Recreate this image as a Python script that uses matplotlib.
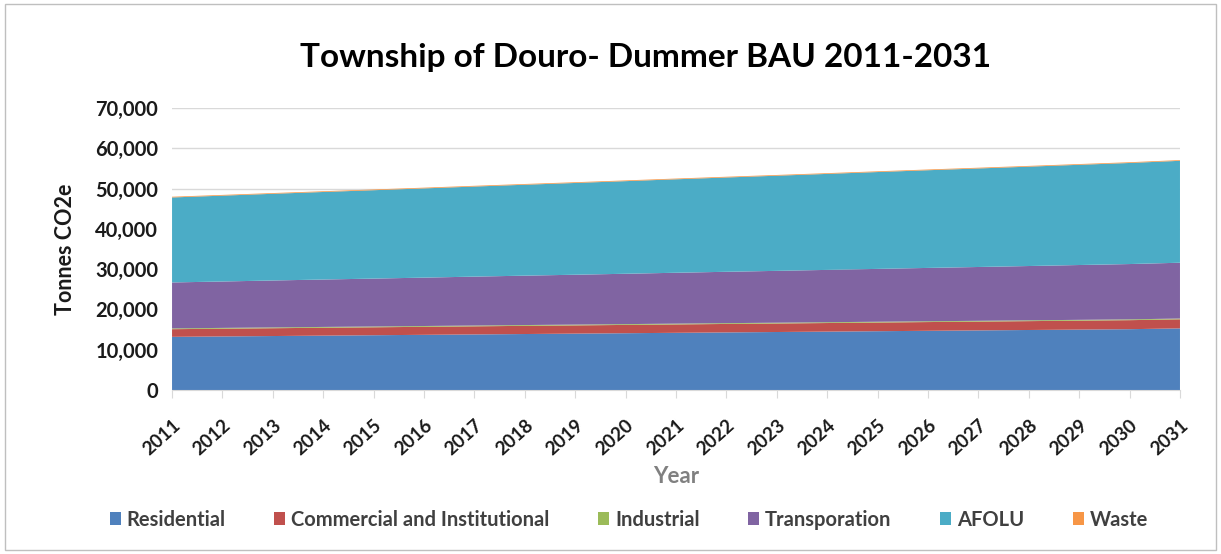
import matplotlib
matplotlib.use("Agg")
import matplotlib.pyplot as plt
from matplotlib.patches import Rectangle
from matplotlib.ticker import FuncFormatter

plt.rcParams['font.family'] = ['Lato', 'DejaVu Sans']

years = list(range(2011, 2032))
residential = [13200, 13300, 13400, 13500, 13600, 13700, 13800, 13900, 14000, 14100, 14200,
               14300, 14400, 14500, 14600, 14700, 14800, 14900, 15000, 15100, 15300]
commercial = [1900, 1920, 1940, 1960, 1970, 1990, 2010, 2030, 2040, 2060, 2080,
              2100, 2110, 2130, 2150, 2170, 2180, 2200, 2220, 2240, 2250]
industrial = [200] * 21
transport = [11400, 11520, 11650, 11770, 11890, 12010, 12140, 12260, 12380, 12500, 12630,
             12750, 12870, 12990, 13120, 13240, 13360, 13480, 13610, 13730, 13850]
afolu = [21100, 21310, 21520, 21730, 21940, 22150, 22360, 22570, 22780, 22990, 23200,
         23410, 23620, 23830, 24040, 24250, 24460, 24670, 24880, 25090, 25300]
waste = [180] * 21

labels = ['Residential', 'Commercial and Institutional', 'Industrial', 'Transporation', 'AFOLU', 'Waste']
colors = ['#4F81BD', '#C0504D', '#9BBB59', '#8064A2', '#4BACC6', '#F79646']

fig = plt.figure(figsize=(12.21, 5.54), dpi=100)
fig.patches.append(Rectangle((0.004, 0.008), 0.992, 0.985, transform=fig.transFigure,
                             fill=False, edgecolor='#BFBFBF', linewidth=1))
ax = fig.add_axes([0.1409, 0.296, 0.8255, 0.509])

ax.stackplot(years, residential, commercial, industrial, transport, afolu, waste,
             colors=colors, labels=labels, linewidth=0)

ax.set_xlim(2011, 2031)
ax.set_ylim(0, 70000)
ax.set_yticks(range(0, 70001, 10000))
ax.yaxis.set_major_formatter(FuncFormatter(lambda v, p: '{:,.0f}'.format(v)))
ax.set_xticks(years)
ax.set_xticklabels([str(y) for y in years], rotation=42, ha='right', rotation_mode='anchor')

ax.grid(axis='y', color='#D9D9D9', linewidth=1)
ax.set_axisbelow(True)
for s in ['top', 'right', 'left']:
    ax.spines[s].set_visible(False)
ax.spines['bottom'].set_color('#D9D9D9')
ax.tick_params(axis='y', length=0, pad=10, labelsize=14.5)
ax.tick_params(axis='x', length=6, color='#D9D9D9', direction='out', labelsize=13.5, pad=13)
for t in ax.get_yticklabels() + ax.get_xticklabels():
    t.set_fontweight('bold')
    t.set_color('#1a1a1a')

ax.set_ylabel('Tonnes CO2e', fontsize=15.5, fontweight='bold', color='#1a1a1a', labelpad=14)
ax.set_xlabel('Year', fontsize=16, fontweight='bold', color='#808080', labelpad=6)

fig.text(0.529, 0.897, 'Township of Douro- Dummer BAU 2011-2031', ha='center', va='center',
         fontsize=24, fontweight='bold', color='#000000')

leg = fig.legend(loc='center', bbox_to_anchor=(0.515, 0.062), ncol=6, frameon=False,
                 fontsize=14.5, handlelength=0.55, handleheight=0.55, handletextpad=0.3,
                 columnspacing=2.4)
for t in leg.get_texts():
    t.set_fontweight('bold')
    t.set_color('#404040')

fig.savefig('out.png', dpi=100)
